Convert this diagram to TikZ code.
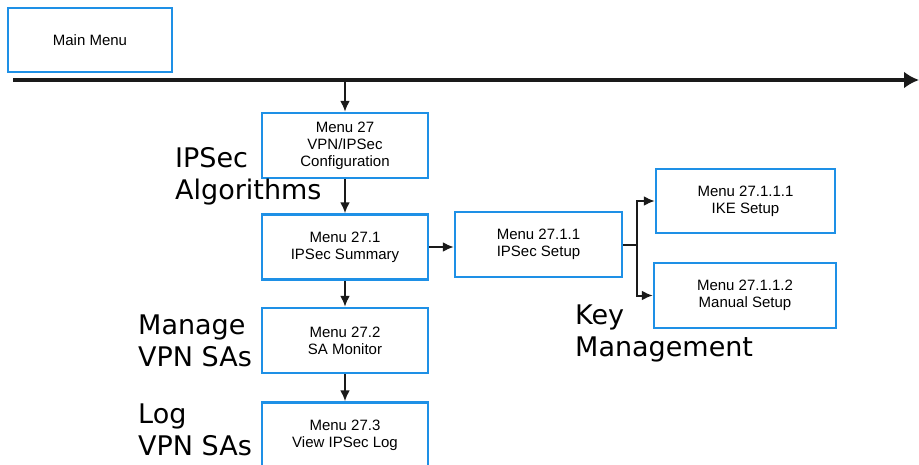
\documentclass[tikz,border=0pt]{standalone}
\usepackage{fontspec}
\setmainfont{Liberation Sans}
\newfontfamily\tagfont{DejaVu Sans}
\usetikzlibrary{
  arrows.meta,
  positioning,
}
\definecolor{menublue}{HTML}{1E90E6}
\definecolor{linkblack}{HTML}{1A1A1A}

\begin{document}
\begin{tikzpicture}[x=1pt, y=-1pt,
    menu/.style={rectangle, draw=menublue, line width=2.5pt, fill=white,
                 minimum width=166pt, minimum height=65pt, inner sep=0pt,
                 align=center, font=\fontsize{15}{17}\selectfont},
    tag/.style={anchor=west, align=left, inner sep=0pt,
                font=\fontsize{27}{32}\selectfont\tagfont},
    link/.style={draw=linkblack, line width=2pt,
                 -{Latex[length=11pt,width=10pt]}},
  ]
  \clip (0,0) rectangle (919,464);

  % menus
  \node[menu, minimum width=164pt, minimum height=64pt] (main) at (90,40) {Main Menu};
  \node[menu] (m27)  at (345,145.5) {Menu 27\\VPN/IPSec\\Configuration};
  \node[menu] (m271) at (345,247)   {Menu 27.1\\IPSec Summary};
  \node[menu] (m272) at (345,340.5) {Menu 27.2\\SA Monitor};
  \node[menu] (m273) at (345,435)   {Menu 27.3\\View IPSec Log};
  \node[menu, minimum width=167pt] (m2711) at (538.5,244.5) {Menu 27.1.1\\IPSec Setup};
  \node[menu, minimum width=179pt, minimum height=64pt] (m27111) at (745.5,201) {Menu 27.1.1.1\\IKE Setup};
  \node[menu, minimum width=182pt] (m27112) at (745,295.5) {Menu 27.1.1.2\\Manual Setup};

  % side labels
  \node[tag] (algo)   at (175,176) {IPSec\\Algorithms};
  \node[tag] (manage) at (138,341) {Manage\\VPN SAs};
  \node[tag] (log)    at (138,430) {Log\\VPN SAs};
  \node[tag] (keys)   at (575,333) {Key\\Management};

  % main line
  \coordinate (start) at (13,80);
  \coordinate (stop)  at (919,80);
  \coordinate (bus)   at (345,80);
  \draw[draw=linkblack, line width=3.5pt, -{Latex[length=15pt,width=17pt]}] (start) -- (stop);

  \draw[link] (bus) -- (m27.north);
  \draw[link] (m27) -- (m271);
  \draw[link] (m271) -- (m272);
  \draw[link] (m272) -- (m273);
  \draw[link] (m271.east) -- (m271.east -| m2711.west);
  \draw[draw=linkblack, line width=2pt] (m2711.east) -- ++(14,0) coordinate (fork);
  \draw[link] (fork) |- (m27111.west);
  \draw[link] (fork) |- (m27112.west);
\end{tikzpicture}
\end{document}
